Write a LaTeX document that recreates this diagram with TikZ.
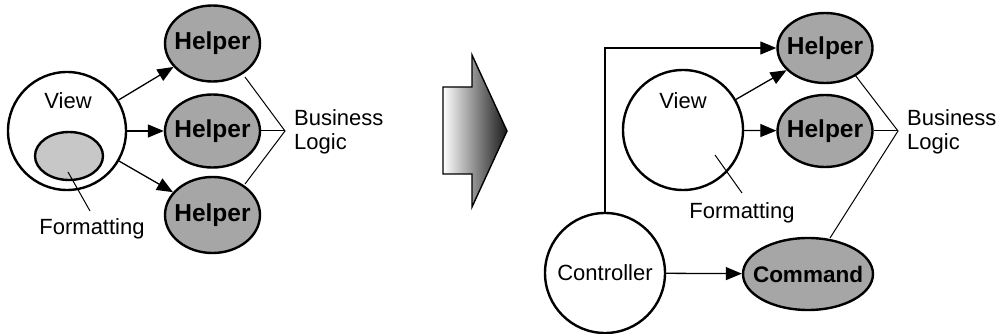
\documentclass[tikz,border=0pt]{standalone}
\usepackage{fontspec}
\setmainfont{Liberation Sans}
\usetikzlibrary{shapes.geometric,arrows.meta}
\begin{document}
\begin{tikzpicture}[x=1pt,y=-1pt,
  circ/.style={circle,draw,line width=2.4pt,fill=white,inner sep=0pt},
  ell/.style={ellipse,draw,line width=2.4pt,fill=black!35,inner sep=0pt},
  lbl/.style={font=\fontsize{22}{24}\selectfont,inner sep=0pt},
  blbl/.style={font=\fontsize{24.5}{26}\selectfont\bfseries,inner sep=0pt},
  arr/.style={line width=1.3pt,-{Triangle[length=16pt,width=13pt]}},
  thin/.style={line width=1pt}]
\useasboundingbox (0,0) rectangle (1001,334);
% ---------- left ----------
\node[circ,minimum size=118pt] (v1) at (67,131) {};
\node[lbl] (v1t) at (68,101) {View};
\node[ellipse,draw,line width=2.4pt,fill=black!22,minimum width=68pt,minimum height=48pt,inner sep=0pt] (fe) at (69,156) {};
\node[lbl] (f1) at (92,229) {Formatting};
\coordinate (f1a) at (90,211);
\coordinate (f1b) at (68,172);
\draw[thin] (f1a) -- (f1b);
\node[ell,minimum width=95pt,minimum height=76pt] (h1) at (212.5,43.5) {};
\node[blbl] at (h1) {Helper};
\node[ell,minimum width=95pt,minimum height=73pt] (h2) at (212.5,131) {};
\node[blbl] at (h2) {Helper};
\node[ell,minimum width=95pt,minimum height=76pt] (h3) at (212.5,215) {};
\node[blbl] at (h3) {Helper};
\draw[arr] (v1) -- (h1);
\draw[arr] (v1) -- (h2);
\draw[arr] (v1) -- (h3);
\coordinate (bl1) at (285,131);
\node[lbl,anchor=west,align=left] (b1) at (294,132) {Business\\Logic};
\coordinate (h1c) at (245,77);
\coordinate (h3c) at (245,184);
\draw[thin] (h1c) -- (bl1) -- (h3c);
\draw[thin] (h2.east) -- (bl1);
% ---------- middle arrow ----------
\path[draw,line width=1.4pt,left color=white,right color=black!90,shading angle=90]
  (443,87) -- (472,87) -- (472,55) -- (507,131) -- (472,207) -- (472,174) -- (443,174) -- cycle;
% ---------- right ----------
\node[ell,minimum width=95pt,minimum height=70pt] (r1) at (825,48) {};
\node[blbl] at (r1) {Helper};
\node[ell,minimum width=95pt,minimum height=72pt] (r2) at (825,131) {};
\node[blbl] at (r2) {Helper};
\node[circ,minimum size=120pt] (v2) at (683,130) {};
\node[lbl] (v2t) at (683,101) {View};
\node[lbl] (f2) at (742,213) {Formatting};
\coordinate (f2a) at (742,193);
\coordinate (f2b) at (715,155);
\draw[thin] (f2a) -- (f2b);
\node[circ,minimum size=120pt] (c) at (605,273) {};
\node[lbl] at (c) {Controller};
\node[ell,minimum width=130pt,minimum height=72pt] (cm) at (808,274) {};
\node[blbl,font=\fontsize{22.5}{24}\selectfont\bfseries] at (cm) {Command};
\draw[arr] (c) -- (cm);
\draw[arr] (c.north) |- (r1.west);
\draw[arr] (v2) -- (r1);
\draw[arr] (v2) -- (r2);
\coordinate (bl2) at (898,131);
\node[lbl,anchor=west,align=left] (b2) at (907,132) {Business\\Logic};
\coordinate (r1c) at (855,75);
\coordinate (cmc) at (830,238);
\draw[thin] (r1c) -- (bl2) -- (cmc);
\draw[thin] (r2.east) -- (bl2);
\end{tikzpicture}
\end{document}
